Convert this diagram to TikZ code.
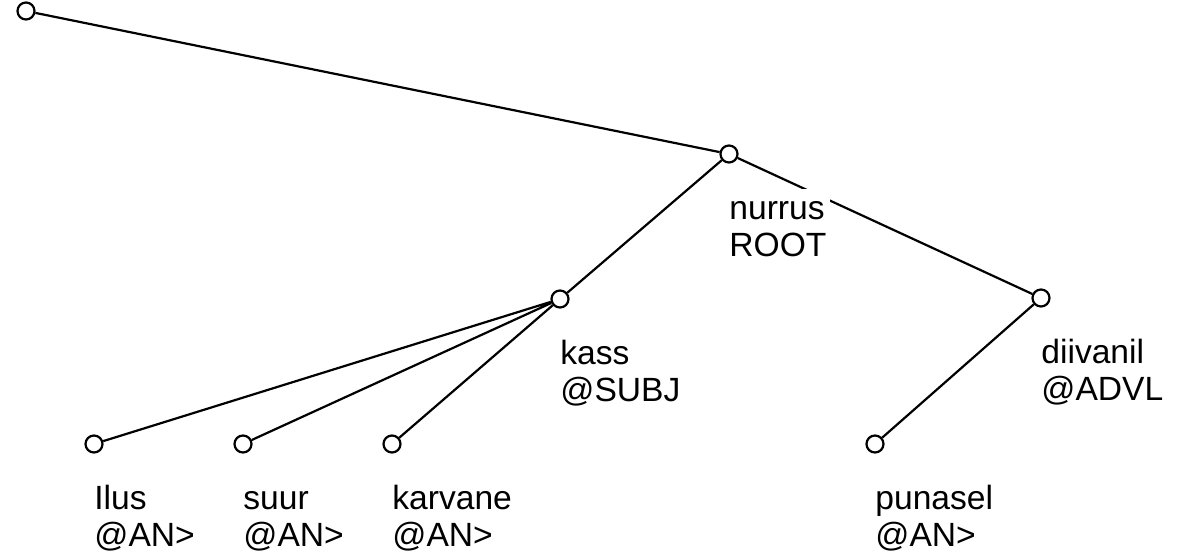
\documentclass[tikz,border=0pt]{standalone}
\usepackage{fontspec}
\setmainfont{Liberation Sans}
\usetikzlibrary{positioning}

\tikzset{
  dot/.style={circle, draw, fill=white, line width=1.1pt, minimum size=8.5pt, inner sep=0pt},
  tag/.style={anchor=north west, fill=white, inner sep=2pt, align=left,
    font=\fontsize{16.8}{18.5}\selectfont},
  link/.style={line width=1.1pt}
}

\begin{document}
\begin{tikzpicture}[x=0.5pt, y=-0.5pt]
          \useasboundingbox (0,0) rectangle (1180,555);

          \node[dot] (top) at (26,11) {};
          \node[dot] (nurrus) at (729,154) {};
          \node[dot] (kass) at (560,299) {};
          \node[dot] (diivanil) at (1041,298) {};
          \node[dot] (ilus) at (94,444) {};
          \node[dot] (suur) at (243,444) {};
          \node[dot] (karvane) at (392,444) {};
          \node[dot] (punasel) at (875,444) {};

          \draw[link]
          (top) -- (nurrus)
          (nurrus) -- (kass)
          (nurrus) -- (diivanil)
          (kass) -- (ilus)
          (kass) -- (suur)
          (kass) -- (karvane)
          (diivanil) -- (punasel);

          \node[tag] at ([xshift=-2pt, yshift=-17.5pt]nurrus.center) {\strut nurrus\\ROOT};
          \node[tag] at ([xshift=-2pt, yshift=-17.5pt]kass.center) {\strut kass\\@SUBJ};
          \node[tag] at ([xshift=-2pt, yshift=-17.5pt]diivanil.center) {\strut diivanil\\@ADVL};
          \node[tag] at ([xshift=-2pt, yshift=-17.5pt]ilus.center) {\strut Ilus\\@AN>};
          \node[tag] at ([xshift=-2pt, yshift=-17.5pt]suur.center) {\strut suur\\@AN>};
          \node[tag] at ([xshift=-2pt, yshift=-17.5pt]karvane.center) {\strut karvane\\@AN>};
          \node[tag] at ([xshift=-2pt, yshift=-17.5pt]punasel.center) {\strut punasel\\@AN>};
        \end{tikzpicture}
\end{document}
